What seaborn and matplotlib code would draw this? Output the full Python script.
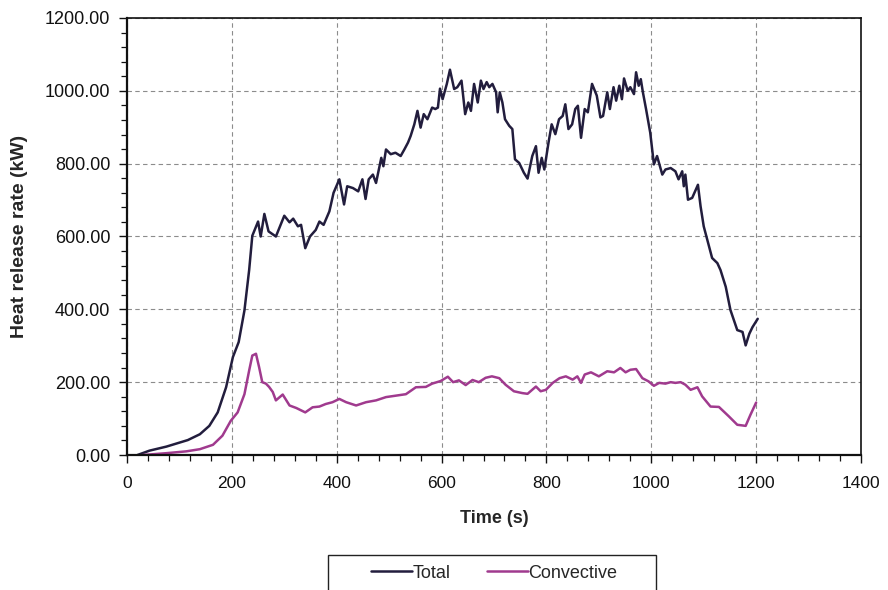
import numpy as np
import pandas as pd
import matplotlib
matplotlib.use("Agg")
import matplotlib.pyplot as plt
from matplotlib import font_manager
from matplotlib.patches import Rectangle
from matplotlib.ticker import MultipleLocator, FormatStrFormatter
import seaborn as sns

# Heat release rate measurements (time in s, rate in kW)
total_t = [20, 43, 75, 116, 139, 157, 173, 189, 202, 213, 224, 233, 239, 250, 255, 262,
           270, 284, 300, 310, 317, 326, 332, 340, 349, 360, 367, 375, 386, 394, 405,
           414, 420, 431, 441, 449, 455, 461, 469, 475, 485, 489, 494, 503, 512, 522,
           529, 536, 541, 548, 554, 560, 566, 573, 582, 588, 593, 597, 602, 610, 616,
           624, 630, 638, 645, 651, 656, 662, 669, 675, 680, 686, 691, 697, 704, 707,
           711, 716, 721, 729, 735, 740, 748, 757, 764, 773, 780, 785, 791, 796, 804,
           810, 817, 824, 831, 836, 842, 849, 855, 860, 866, 873, 879, 887, 896, 903,
           908, 916, 921, 928, 933, 939, 944, 948, 955, 960, 967, 971, 976, 980, 984,
           990, 998, 1005, 1011, 1021, 1027, 1037, 1046, 1052, 1059, 1062, 1065, 1070,
           1078, 1089, 1094, 1100, 1110, 1116, 1126, 1132, 1142, 1151, 1164, 1174,
           1180, 1187, 1193, 1203]
total_kw = [0, 12, 23, 41, 57, 80, 117, 186, 269, 310, 397, 508, 602, 641, 600, 662,
            614, 600, 657, 639, 649, 628, 632, 568, 600, 618, 641, 632, 669, 720, 757,
            688, 738, 733, 724, 757, 703, 757, 770, 747, 816, 793, 839, 826, 830, 821,
            839, 858, 876, 908, 945, 899, 936, 922, 954, 950, 954, 1006, 977, 1019, 1058,
            1005, 1010, 1028, 936, 968, 945, 1019, 968, 1028, 1005, 1024, 1010, 1019, 996, 941,
            996, 968, 922, 904, 895, 812, 802, 775, 759, 821, 848, 775, 816, 784, 858,
            908, 881, 922, 931, 963, 895, 908, 950, 959, 871, 950, 941, 1019, 987, 927,
            931, 996, 950, 1010, 973, 1014, 977, 1034, 1000, 1010, 991, 1051, 1014, 1032, 996,
            950, 885, 798, 821, 770, 784, 788, 779, 757, 779, 738, 770, 701,
            706, 742, 683, 628, 573, 541, 527, 508, 462, 398, 343, 338,
            301, 333, 351, 374]

conv_t = [30, 75, 113, 139, 164, 182, 198, 211, 224, 233, 239, 246, 252, 258, 265, 271,
          278, 284, 297, 310, 323, 340, 354, 367, 379, 392, 405, 418, 437, 456, 475,
          494, 513, 532, 551, 570, 582, 598, 612, 622, 633, 646, 659, 671, 684, 696,
          710, 722, 738, 754, 764, 780, 789, 799, 812, 825, 837, 850, 859, 866, 873,
          885, 900, 916, 929, 941, 951, 960, 971, 983, 995, 1005, 1015, 1027, 1037,
          1046, 1056, 1065, 1075, 1088, 1097, 1113, 1129, 1148, 1164, 1180, 1189, 1200]
conv_kw = [0, 5, 10, 16, 28, 53, 94, 117, 167, 232, 273, 278, 241, 200, 196, 187,
           173, 150, 166, 136, 129, 117, 131, 133, 140, 145, 154, 145, 136, 145, 150,
           159, 163, 167, 186, 187, 196, 203, 215, 200, 205, 192, 206, 200, 212, 216,
           211, 193, 175, 170, 168, 188, 175, 179, 198, 211, 216, 207, 216, 198, 221,
           227, 216, 230, 227, 239, 227, 234, 236, 211, 202, 190, 198, 196, 200,
           198, 200, 193, 179, 186, 161, 133, 132, 106, 83, 80, 110, 144]

series_names = ["Total", "Convective"]
series_colors = {"Total": "#221d3d", "Convective": "#a03a8e"}

df = pd.concat([
    pd.DataFrame({"Time (s)": total_t, "HRR": total_kw, "series": "Total"}),
    pd.DataFrame({"Time (s)": conv_t, "HRR": conv_kw, "series": "Convective"}),
], ignore_index=True)

sns.set_style("ticks")
plt.rcParams["font.family"] = ["Liberation Sans", "DejaVu Sans"]

# Narrow face for the time axis numbers, when one is installed
installed = {f.name for f in font_manager.fontManager.ttflist}
if "Liberation Sans Narrow" in installed:
    xtick_family, xtick_size = "Liberation Sans Narrow", 14
else:
    xtick_family, xtick_size = "Liberation Sans", 12.5

fig = plt.figure(figsize=(8.88, 5.90), dpi=100)
ax = fig.add_axes([127 / 888, 1 - 455 / 590, 734 / 888, 437 / 590])

sns.lineplot(data=df, x="Time (s)", y="HRR", hue="series", hue_order=series_names,
             palette=series_colors, estimator=None, sort=False, linewidth=1.8,
             legend=False, ax=ax)

ax.set_xlim(0, 1400)
ax.set_ylim(0, 1200)
ax.xaxis.set_major_locator(MultipleLocator(200))
ax.xaxis.set_minor_locator(MultipleLocator(40))
ax.yaxis.set_major_locator(MultipleLocator(200))
ax.yaxis.set_minor_locator(MultipleLocator(40))
ax.yaxis.set_major_formatter(FormatStrFormatter("%.2f"))

ax.grid(True, which="major", color="#8c8c8c", linestyle=(0, (4, 3)), linewidth=0.8)
ax.set_axisbelow(True)

for side in ["left", "bottom", "top", "right"]:
    ax.spines[side].set_visible(True)
    ax.spines[side].set_color("#111111")
    ax.spines[side].set_linewidth(1.2)
ax.spines["left"].set_linewidth(1.6)
ax.spines["bottom"].set_linewidth(1.6)

ax.tick_params(axis="both", which="major", direction="out", length=6, width=1.0,
               colors="#111111")
ax.tick_params(axis="both", which="minor", direction="out", length=4, width=0.9,
               colors="#111111")
ax.tick_params(axis="x", which="major", pad=9)
ax.tick_params(axis="y", which="major", pad=6, labelsize=13)
for lbl in ax.get_xticklabels():
    lbl.set_family(xtick_family)
    lbl.set_fontsize(xtick_size)

ax.set_xlabel("Time (s)", fontsize=13, fontweight="bold")
ax.set_ylabel("Heat release rate (kW)", fontsize=14, fontweight="bold")
ax.xaxis.set_label_coords(0.5, -0.125)
ax.yaxis.set_label_coords(-0.135, 0.5)

# Legend below the plot, inside a wide box
handles = [plt.Line2D([], [], color=series_colors[n], linewidth=1.8) for n in series_names]
fig.legend(handles, series_names, loc="center", bbox_to_anchor=(494 / 888, 1 - 573 / 590),
           ncol=2, frameon=False, fontsize=13, handlelength=2.3, handletextpad=0.0,
           columnspacing=2.0)
fig.patches.append(Rectangle((328 / 888, -0.02), 328 / 888, (1 - 555 / 590) + 0.02,
                             transform=fig.transFigure, fill=False,
                             edgecolor="#222222", linewidth=1.0))

fig.savefig("out.png", dpi=100)
